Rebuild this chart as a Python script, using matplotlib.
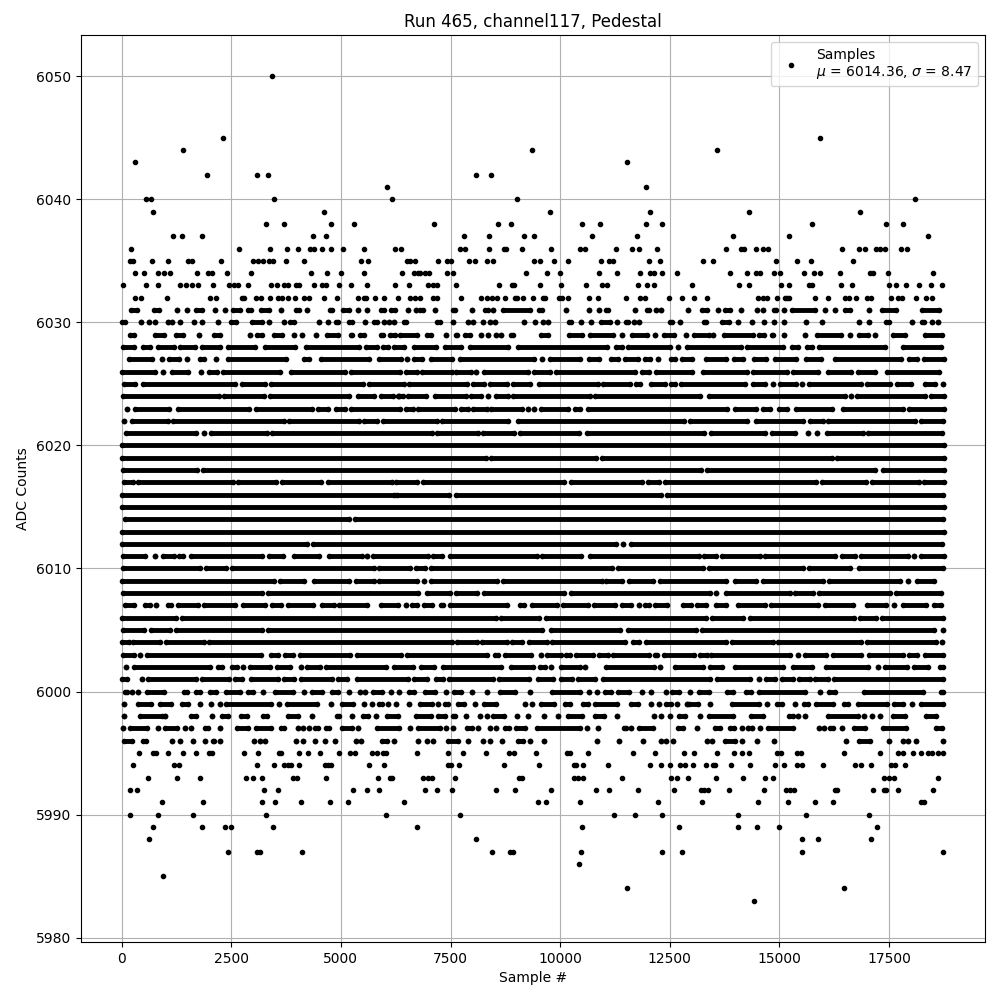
import numpy as np
import matplotlib
matplotlib.use("Agg")
import matplotlib.pyplot as plt

# Values.
# Sparse ADC levels: one sample number per visible dot
sparse_levels = [6050, 6045, 6044, 6043, 6042, 6041, 6040, 6039, 6038, 6037, 6036, 6035, 6034, 6033, 6032,
                 5995, 5994, 5993, 5992, 5991, 5990, 5989, 5988, 5987, 5986, 5985, 5984, 5983]
sparse_samples = [
    [3420],
    [2303, 15935],
    [1391, 9362, 13586],
    [296, 11528],
    [1938, 3078, 3329, 8085, 8427],
    [6060, 11961],
    [547, 661, 3466, 6170, 9020, 18100],
    [707, 4606, 9773, 12053, 14316, 16847],
    [3283, 3694, 4765, 5290, 7128, 8587, 8883, 10502, 10913, 11961, 12326, 15752, 17439, 17827],
    [1163, 1368, 1824, 4355, 4651, 7812, 8382, 9180, 9408, 10730, 11756, 13951, 15228, 18397],
    [205, 2668, 3374, 3762, 4013, 4286, 4378, 4560, 4765, 5039, 5518, 6231, 6368, 7721, 7835, 8382, 8724, 8770,
     9134, 9795, 10457, 10571, 11277, 11642, 11802, 12212, 13791, 14133, 14202, 14475, 14635, 14749, 16436,
     16824, 16961, 17211, 17303, 17417, 17781, 17918],
    [182, 251, 684, 1049, 1505, 1596, 2257, 2987, 3101, 3215, 3352, 3443, 3739, 4150, 5449, 5609, 6512, 6581,
     6695, 7219, 7424, 7515, 7926, 8063, 8336, 8473, 9408, 9545, 9864, 10183, 10935, 11118, 11209, 12030, 12281,
     13267, 13495, 14931, 15410, 15729, 16687],
    [296, 502, 821, 958, 1094, 1710, 1961, 2052, 2394, 2941, 4309, 4674, 4993, 5518, 6398, 6672, 6763, 6809, 6923,
     7014, 7424, 7561, 9225, 9704, 10001, 10890, 11300, 11825, 12053, 12144, 12326, 12668, 13883, 14270, 14475,
     14567, 14886, 15023, 15570, 15798, 15927, 16391, 17075, 17143, 17485, 18511],
    [23, 547, 821, 1322, 1459, 1596, 1733, 2075, 2440, 2554, 2645, 2873, 3397, 3534, 3694, 3785, 3967, 4036, 4378,
     4560, 4651, 4948, 5221, 5586, 6231, 6558, 6991, 7105, 7196, 7629, 8610, 8906, 8952, 9545, 10023, 10593,
     10958, 11072, 11779, 11984, 12144, 13016, 14088, 14316, 15045, 15228, 15684, 15752, 16413, 16664, 17508,
     17667, 17895, 18192, 18465, 18716],
    [296, 433, 1026, 2006, 2143, 2736, 2782, 3055, 3169, 3374, 3557, 3648, 3785, 3944, 4150, 4264, 4606, 4902, 5381,
     5518, 5563, 5768, 5974, 6307, 6581, 6695, 6809, 7105, 7196, 7743, 8199, 8336, 8450, 8564, 8747, 8975, 9020,
     9157, 9385, 9613, 9659, 9978, 10046, 10183, 10662, 10867, 11505, 11825, 11939, 12486, 12782, 13062, 13358,
     14521, 14635, 14726, 14954, 15137, 15182, 15228, 15820, 16117, 16505, 16596, 16755, 17006, 17097, 17553,
     17713, 17804, 18116, 18351, 18488],
    [388, 714, 790, 1049, 1391, 1687, 1984, 2067, 2782, 3101, 3580, 3640, 4036, 4241, 4514, 4948, 5198, 5312, 5700,
     5814, 5965, 6026, 6740, 7447, 7789, 8313, 8838, 8952, 9453, 10153, 10221, 10639, 11665, 12167, 12828, 13062,
     13586, 13974, 14156, 14316, 14939, 15030, 15410, 15486, 16482, 17303, 17713, 17827, 18055, 18237, 18397,
     18488, 18625, 18730],
    [251, 1186, 1300, 3078, 3466, 3709, 3785, 3861, 4036, 4628, 4704, 4780, 5632, 5990, 7447, 7500, 7698, 8724,
     9522, 10312, 10365, 10525, 11095, 12053, 12303, 12509, 12737, 12851, 13039, 13335, 13495, 13541, 13905, 14339,
     14909, 15114, 15395, 15524, 16003, 16733, 16869, 17097, 17538, 17645, 17873],
    [593, 1254, 1778, 2827, 2987, 3192, 3899, 3998, 4651, 5837, 6110, 6155, 6877, 6991, 7067, 7607, 9066, 9134,
     10320, 10411, 10510, 11414, 12531, 12668, 12919, 13563, 14179, 14681, 14863, 17394, 17508, 17622, 18625],
    [182, 342, 3238, 3557, 5267, 5586, 5860, 6923, 7196, 7538, 8541, 8975, 9795, 10821, 11118, 11779, 12600, 13206,
     13282, 13381, 13860, 14658, 15159, 15251, 15342, 16277, 16322, 17143, 17394, 17439, 17713, 18511],
    [912, 1847, 3192, 3488, 4081, 4742, 5153, 6444, 9499, 9681, 10457, 12235, 13244, 14521, 15205, 15820, 16231,
     18237, 18306],
    [182, 821, 1619, 3283, 6040, 7721, 11232, 11711, 12326, 14065, 15615, 17052],
    [707, 1824, 2348, 2485, 3443, 6740, 10502, 12714, 14065, 14498, 15000, 17234],
    [616, 8085, 15524, 15889, 17097],
    [2417, 3078, 3146, 4104, 8450, 8861, 8929, 10479, 12326, 12785, 15524, 18730],
    [10434],
    [935],
    [11528, 16482],
    [14430],
]

# Crowded ADC levels: the dots merge, so each row is kept as the runs seen in
# the picture, (first sample, last sample), a plain number being a lone dot
dense_levels = list(range(6031, 5995, -1))
dense_runs = [
    [(205, 342), (730, 851), 1262, 1482, (1687, 1824), 2120, 2364, (2538, 2690), (2880, 2941), (3169, 3359), 3625, (3982, 4040),
     4226, (4742, 4803), (5046, 5183), 5381, 5586, (5905, 5981), (6140, 6239), 6535, 6702, (6809, 6877), 7151, (7553, 7607),
     7987, (8291, 8351), 8473, (8686, 9301), (9522, 9575), 10137, 10662, 10890, (11042, 11090), 11711, (11969, 12015), 12189,
     12303, 12925, (13237, 13358), 13609, (13769, 13883), 14133, 14498, 14635, (14871, 14931), 15114, (15289, 15820), 16049,
     16269, (16505, 16611), 17052, (17341, 17650), (18253, 18648)],
    [(15, 76), 433, 616, 752, 1049, 1140, 1338, 1657, 1824, 2189, (2485, 2599), (2979, 3192), 3359, 3709, (3830, 3922), 4492,
     4704, (4879, 4925), (5183, 5244), 5540, (5753, 5814), 5989, 6102, 6216, (6436, 6482), (7196, 7257), 7553, 7903, 8017, 8245,
     8405, 8519, 9180, 9431, 9613, 9727, (10191, 10236), 10479, 10707, (10935, 11133), 11300, (11505, 11551), 11688, 11802,
     (12501, 12539), 12729, (13275, 13335), (13693, 13845), 14065, 14384, 14658, 14886, 15114, 15608, 15980, 16824, 17052,
     (17432, 17493), 18032, (18253, 18298), 18488, 18625],
    [(182, 289), (760, 973), (1231, 1406), 1756, (2105, 2242), 2918, (3093, 3207), (3473, 3648), 3922, 4119, 4438, (4689, 4925),
     (5221, 5259), (5426, 5533), (5905, 5950), (6125, 6223), (6353, 6740), (6961, 7059), 7401, (7622, 7652), (7835, 7933), 8199,
     8359, 8534, 8648, (8883, 8921), (9567, 9719), (10191, 10495), (10685, 11201), 11414, (11635, 11984), 12167, (12357, 12607),
     12866, (13047, 13389), 13495, (13731, 14399), (14544, 14650), (14833, 14863), 15114, 15593, (15859, 16413), 16619,
     (16809, 17021), 17189, (17584, 17857), (18329, 18716)],
    [(24, 274), (480, 654), (822, 1186), (1331, 1680), (1832, 2250), (2418, 3048), (3276, 3960), (4204, 5404), (5572, 5822),
     (5967, 6073), (6210, 6448), (6676, 7163), (7375, 7740), (7938, 8819), (9032, 11061), (11282, 11403), (11555, 12513),
     12695, (12900, 14134), (14264, 15084), (15290, 15426), (15632, 15746), (15898, 17402), (17813, 18679)],
    [(176, 692), 920, (1072, 1316), 1498, (1787, 1870), 2159, (2418, 3755), (4166, 4264), (4546, 5632), (5860, 6372), 6517,
     (6676, 6859), (7049, 7527), (7717, 9412), 9579, (9777, 10453), (10659, 10887), (11153, 11327), (11479, 11783),
     (11935, 12049), 12224, (12521, 12620), (12787, 13000), (13314, 13770), (13975, 14172), (14431, 14704), (14910, 15388),
     (15609, 15958), (16278, 17782), (17950, 18147), (18307, 18745)],
    [(10, 753), 943, (1148, 1513), 1802, (1984, 2174), (2319, 3618), (3862, 5085), (5230, 6350), (6494, 6729), (6843, 7527),
     (7634, 7968), 8090, (8272, 9260), (9405, 9769), (9899, 11707), (11859, 12027), (12179, 13000), (13260, 14271),
     (14400, 15183), (15312, 15882), (16110, 16627), (16794, 17190), (17456, 18634)],
    [(54, 297), (480, 2577), (2744, 3261), (3406, 5496), (5648, 6448), (6555, 7869), (8021, 8272), (8394, 8781), (8926, 9313),
     (9519, 10871), (10978, 11593), (11722, 11821), (12065, 12391), (12521, 12620), (12756, 14210), (14408, 14682), 14849,
     (15024, 15388), 15518, (15685, 16870), (17000, 17516), (17684, 18010), (18330, 18542), 18740],
    [(24, 2212), (2342, 3254), (3383, 5176), (5382, 5746), (5914, 6180), 6316, (6311, 6425), (6539, 6935), (7147, 7847),
     (7961, 8196), 8363, (8531, 8804), (8926, 10681), (10795, 13184), (13390, 16490), 16635, (16772, 18330), (18466, 18745)],
    [115, (305, 1072), (1278, 2896), (3064, 4340), (4470, 4705), (4888, 5085), (5230, 6350), (6494, 6653), (6767, 7603),
     (7740, 7907), (8014, 8325), (8432, 9139), 9275, 9412, (9557, 10187), (10332, 10453), (10643, 13815), (13998, 14476),
     (14621, 14780), (15001, 15176), (15381, 16202), (16445, 17820), (17950, 18745)],
    [46, (236, 1057), (1179, 3694), (3808, 5404), (5534, 5822), (5967, 7185), (7299, 8819), (9032, 12832), (12950, 14271),
     (14476, 15540), (15708, 16000), (16110, 18086), (18231, 18732)],
    [(100, 1696), 1870, (2038, 3314), (3428, 7071), (7201, 8120), (8242, 8956), (9078, 10431), (10621, 13283), (13428, 14666),
     (14834, 15366), 15662, 15852, (16088, 16908), (17022, 18710)],
    [(0, 18745)],
    [(10, 8320), (8417, 10811), (10947, 16202), (16323, 18745)],
    [(39, 1718), (1848, 13222), (13352, 17174), (17357, 18745)],
    [(54, 252), (366, 2532), (2646, 3527), (3649, 4553), (4698, 6170), (6266, 6729), (6881, 10096), (10241, 11875),
     (12011, 12255), (12391, 15844), (15974, 16984), (17114, 18178), (18307, 18745)],
    [(0, 6210), (6290, 7467), (7634, 12300), (12445, 18732)],
    [(0, 18745)],
    [(69, 5176), (5313, 18732)],
    [(0, 18745)],
    [(8, 4226), (4356, 11267), 11434, (11609, 18710)],
    [(24, 540), 768, (936, 1186), (1300, 1392), (1574, 3200), (3352, 3672), (3922, 4492), (4736, 5480), 5602, (5739, 6980),
     (7102, 7315), (7482, 9465), (9595, 10476), (10674, 13162), (13283, 13564), (13694, 14552), (14682, 16262), (16430, 16718),
     (16863, 17934), 18079, (18238, 18745)],
    [(24, 1794), (1924, 2387), (2516, 5746), (5876, 6577), (6707, 6919), (7049, 11191), (11327, 13260), (13390, 15540),
     (15685, 16604), (16810, 18732)],
    [(8, 3466), (3611, 4150), (4394, 5192), (5344, 5746), (5876, 6729), 6889, (7064, 8553), (8698, 10947), (11054, 11419),
     (11571, 12125), (12270, 13770), (13998, 14476), (14628, 15996), (16141, 17744), 17942, (18140, 18527)],
    [(39, 3200), (3345, 6767), (6973, 7489), (7619, 8097), (8265, 10096), (10256, 13412), 13564, (13792, 15236), (15366, 15768),
     (15913, 17516), (17661, 18694)],
    [(69, 290), (533, 654), 776, (1050, 1133), (1278, 1741), (1870, 2592), (2760, 3261), (3421, 3626), (3786, 4356), (4561, 4834),
     (4964, 5602), (5914, 6311), 6479, (6631, 6729), (6897, 7071), (7277, 7337), (7482, 8781), (9078, 9177), (9367, 9937),
     (10066, 10628), (10773, 11251), (11403, 11609), 11791, (11928, 12027), (12156, 12429), (12802, 12990), (13124, 13336),
     (13542, 13777), (14058, 14682), (14818, 15882), (16050, 16680), (17000, 17440), 17623, (17813, 18352), (18520, 18694)],
    [(8, 1240), (1369, 8531), (8645, 9519), (9686, 13336), (13466, 14172), (14340, 16703), (16848, 17212), (17342, 18732)],
    [(39, 502), (670, 1095), (1240, 3200), (3330, 9595), (9785, 11365), (11555, 13108), (13238, 18527), 18725],
    [(8, 160), (267, 867), (1012, 1870), (1984, 7527), (7657, 8097), (8227, 8781), (8911, 9123), (9290, 9693), (9823, 11479),
     (11662, 11799), (11951, 13792), (13922, 14856), (14970, 16870), (17000, 18580), 18702],
    [(30, 289), 410, (585, 3177), (3397, 3572), (3716, 3914), (4058, 5206), (5373, 6360), (6505, 8336), (8519, 8579), (8747, 9324),
     9560, (9697, 10008), (10130, 10213), (10365, 10745), (10890, 11087), (11201, 12037), (12167, 12212), (12357, 13054),
     (13199, 13358), (13449, 15235), 15418, (15593, 16071), (16223, 16869), (17037, 17819), (17948, 18139), (18329, 18731)],
    [99, (281, 2014), (2204, 2280), (2523, 2622), 2759, (2926, 3382), (3549, 3838), 4089, (4233, 4522), (4666, 6040), (6201, 6641),
     (6831, 7120), (7325, 8655), (8883, 9377), (9545, 9643), 9788, (10016, 10441), 10571, (11042, 12151), 12281, (12623, 13259),
     (13427, 13700), (13997, 15083), (15304, 15752), (16064, 17021), 17242, (17416, 17918), (18078, 18389), (18655, 18730)],
    [(0, 114), 456, (608, 1687), (1824, 2447), (2584, 2751), (2956, 3557), (3701, 3937), (4096, 4803), (4940, 5130), (5373, 6527),
     (6657, 6968), (7166, 7325), (7455, 8465), (8610, 9279), (9491, 9833), (10016, 10267), (10403, 10799), (10966, 13411),
     (13579, 14323), 14529, (14703, 14893), (15061, 15311), (15456, 15691), (15820, 16109), (16254, 18730)],
    [(68, 114), 236, 380, (585, 973), (1421, 1482), (1687, 1786), (2006, 2151), (2371, 2698), (2888, 3002), 3222, (3496, 3899), 4165,
     (4332, 4575), (4788, 4925), 5176, 5426, 5556, (5738, 5928), 6140, 6330, (6543, 6657), (6923, 7135), 7401, (7569, 7743), 7994,
     8329, (8633, 8959), 9317, (9811, 10441), 10662, 10844, (11027, 11148), (11315, 11559), 11870, 12075, 12417, (12547, 12721),
     12971, (13176, 13396), (13807, 13943), (14240, 14346), (14544, 15577), 15935, (16140, 16261), (16923, 18275), (18693, 18730)],
    [46, (380, 669), (866, 1125), (1368, 1505), 1794, 2029, 2234, (2386, 3405), 3580, (3777, 4461), 4773, (5031, 5282), 5518, 5715,
     (5867, 5928), 6079, 6261, 6558, (6809, 7075), 7219, (7379, 7439), (7667, 7804), 8063, (8253, 8541), 9203, 9355, (9567, 9856),
     (10115, 10213), (10517, 10631), (10799, 11293), (11619, 11771), 12075, 12258, (12417, 12531), 12668, 12881, (12948, 13145),
     13427, (13921, 14529), 14711, (14947, 15061), 15365, (15570, 15654), (15843, 16223), (16467, 16565), (16793, 17462),
     (17622, 17819), 18017, (18237, 18730)],
    [46, (410, 912), 996, (1573, 1687), 2060, (2295, 2432), (2713, 2865), (3222, 3306), (3800, 4013), 4340, (4917, 4955), 5252,
     (5510, 5609), 5791, (6049, 6299), (6717, 7044), (7211, 7363), (7561, 7607), 7850, 8177, 8336, (8465, 8716), 9020, 9271, 9636,
     9955, (10175, 10495), (10799, 10989), 11300, 12144, 12303, 12509, (12699, 12851), 13191, (13404, 13943), (14361, 14627),
     (15213, 15311), 15433, 15577, (16109, 16793), 16938, 17120, 17303, (17584, 17857), (18344, 18579)],
    [23, (182, 578), 821, (988, 1254), 1436, 1573, (1900, 1976), 2234, (2637, 2888), (3055, 3405), (3625, 3709), 4013, 4134, 4264,
     (4408, 4484), (4666, 4727), (5016, 5244), 5388, (5829, 6315), 6581, (6755, 7249), 7386, 7561, (7873, 7987), 8131, 8405, 8541,
     (8747, 8823), (8997, 9203), (9469, 10441), 10609, 10867, (11445, 11505), 11604, (11787, 12113), (12683, 12797), 13130,
     (13525, 13639), (13867, 13966), 14141, 14293, 14384, 14559, (14741, 15311), 15904, 16018, (16163, 16216), 16421,
     (16695, 16945), (17356, 17895), (18579, 18701)],
    [(46, 228), (486, 555), 1140, 1322, 1619, 1892, (2075, 2113), 2234, 3010, 3146, 3260, 3967, 4127, 4400, 4628, 4856, 5335, 5449,
     (5928, 6049), 6216, 6763, 6968, 7105, (7432, 7667), 7903, 8230, 8405, 8663, (9035, 9149), 9317, 9636, 10844, 11346, 11893,
     12303, 12417, 12577, 13351, 13465, (13769, 13997), 14156, 14498, 14886, 16527, (16809, 17059), 17493, 17827, 17941, 18116,
     18730],
]

run_title = "Run 465, channel117, Pedestal"
legend_text = "Samples\n$\\mu$ = 6014.36, $\\sigma$ = 8.47"

dot_x = []
dot_y = []
for level, samples in zip(sparse_levels, sparse_samples):
    dot_x.extend(samples)
    dot_y.extend([level] * len(samples))

run_y = []
run_start = []
run_end = []
for level, runs in zip(dense_levels, dense_runs):
    for run in runs:
        start, end = run if isinstance(run, tuple) else (run, run)
        run_y.append(level)
        run_start.append(start)
        run_end.append(end)

fig, ax = plt.subplots(figsize=(10, 10), dpi=100)

ax.hlines(run_y, run_start, run_end, color='k', linewidth=3.5, zorder=2)
ax.plot(run_start + run_end + dot_x, run_y + run_y + dot_y, '.', color='k', label=legend_text)

ax.set_xlim(-937, 19687)
ax.set_ylim(5979.65, 6053.35)
ax.set_xticks(np.arange(0, 17501, 2500))
ax.set_xlabel("Sample #")
ax.set_ylabel("ADC Counts")
ax.set_title(run_title)
ax.ticklabel_format(useOffset=False, axis='y')
ax.grid(True)
ax.legend(loc='upper right')

# tight_layout left the top edge 2px low, so the margins are set by hand
fig.subplots_adjust(left=0.0805, right=0.985, top=0.965, bottom=0.058)
fig.savefig("out.png")
